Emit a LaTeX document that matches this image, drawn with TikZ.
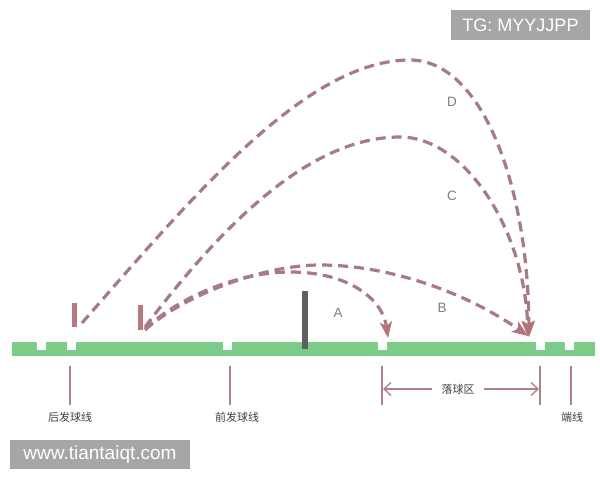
\documentclass[tikz,border=0pt]{standalone}
\usepackage{fontspec}
\setmainfont{Liberation Sans}
\newfontfamily\cjk{Noto Sans CJK SC}
\usetikzlibrary{arrows.meta}
\definecolor{grass}{HTML}{7CCB88}
\definecolor{trajc}{HTML}{A67C82}
\definecolor{tipc}{HTML}{B3737C}
\definecolor{markc}{HTML}{B7787F}
\definecolor{postc}{HTML}{5E5F61}
\definecolor{lblc}{HTML}{857B7D}
\definecolor{wmc}{HTML}{A6A6A6}
\definecolor{dimc}{HTML}{B08088}
\begin{document}
\begin{tikzpicture}[x=1pt,y=-1pt,
  traj/.style={draw=trajc, line width=3.2pt, dash pattern=on 10pt off 6pt,
    -{Stealth[length=16pt,width=12pt,inset=4pt,color=tipc]}},
  marker/.style={fill=markc, inner sep=0pt, minimum width=5pt},
  notch/.style={fill=white},
  dimline/.style={draw=dimc, line width=1.3pt},
  dimarrow/.style={draw=dimc, line width=1.3pt, -{Straight Barb[length=7pt,width=13pt]}},
  cjklabel/.style={text=black!75, font=\cjk\fontsize{11}{11}\selectfont, inner sep=1pt},
  letter/.style={text=lblc, font=\fontsize{13.5}{13.5}\selectfont, inner sep=1pt},
  wmbox/.style={fill=wmc, text=white, font=\fontsize{18}{18}\selectfont, inner sep=0pt, anchor=center}]
\useasboundingbox (0,0) rectangle (600,480);
\fill[white] (0,0) rectangle (600,480);

% court
\fill[grass] (12,342) rectangle (595,356);
\foreach \x in {37,67,223,378,536,565}
  \fill[notch] (\x,342) rectangle ++(9,8);

% net post
\node[fill=postc, inner sep=0pt, minimum width=6pt, minimum height=58pt] (net) at (305,320) {};

% serving markers
\node[marker, minimum height=24pt] (m1) at (74.5,315) {};
\node[marker, minimum height=25pt] (m2) at (140,317.5) {};

% trajectory points
\coordinate (sD) at (82,323);
\coordinate (sC) at (145,327);
\coordinate (sB) at (145,330);
\coordinate (sA) at (145,329);
\coordinate (pD) at (410,60);
\coordinate (pC) at (400,137);
\coordinate (pB) at (320,265);
\coordinate (pA) at (290,272);
\coordinate (eA) at (388,338);
\coordinate (eB) at (528,336);
\coordinate (eC) at (528,337);
\coordinate (eD) at (529,337);

\draw[traj] (sD) .. controls (202,185) and (310,60) .. (pD)
                 .. controls (480,60) and (528,180) .. (eD);
\draw[traj] (sC) .. controls (223,224) and (310,137) .. (pC)
                 .. controls (465,137) and (525,230) .. (eC);
\draw[traj] (sB) .. controls (180,298) and (260,265) .. (pB)
                 .. controls (390,265) and (467,293) .. (eB);
\draw[traj] (sA) .. controls (180,296) and (240,272) .. (pA)
                 .. controls (350,272) and (383,300) .. (eA);

% letters
\node[letter] (lA) at (338,313) {A};
\node[letter] (lB) at (442,308) {B};
\node[letter] (lC) at (452,196) {C};
\node[letter] (lD) at (452,102) {D};

% reference lines and labels
\node[cjklabel] (t1) at (70,417) {后发球线};
\node[cjklabel] (t2) at (237,417) {前发球线};
\node[cjklabel] (t3) at (458,389) {落球区};
\node[cjklabel] (t4) at (572,417) {端线};

\coordinate (a1) at (70,366);   \coordinate (b1) at (70,405);
\coordinate (a2) at (230,366);  \coordinate (b2) at (230,405);
\coordinate (a3) at (382,366);  \coordinate (b3) at (382,405);
\coordinate (a4) at (540,366);  \coordinate (b4) at (540,405);
\coordinate (a5) at (571,366);  \coordinate (b5) at (571,405);
\draw[dimline] (a1) -- (b1);
\draw[dimline] (a2) -- (b2);
\draw[dimline] (a3) -- (b3);
\draw[dimline] (a4) -- (b4);
\draw[dimline] (a5) -- (b5);
\coordinate (z1) at (383,389);
\coordinate (z2) at (539,389);
\draw[dimarrow] ([xshift=-8pt]t3.west) -- (z1);
\draw[dimarrow] ([xshift=8pt]t3.east) -- (z2);

% watermarks
\node[wmbox, minimum width=139pt, minimum height=30pt] (w1) at (520.5,25) {TG: MYYJJPP};
\node[wmbox, minimum width=180pt, minimum height=29pt, font=\fontsize{19}{19}\selectfont] (w2) at (100,454.5) {www.tiantaiqt.com};
\end{tikzpicture}
\end{document}
